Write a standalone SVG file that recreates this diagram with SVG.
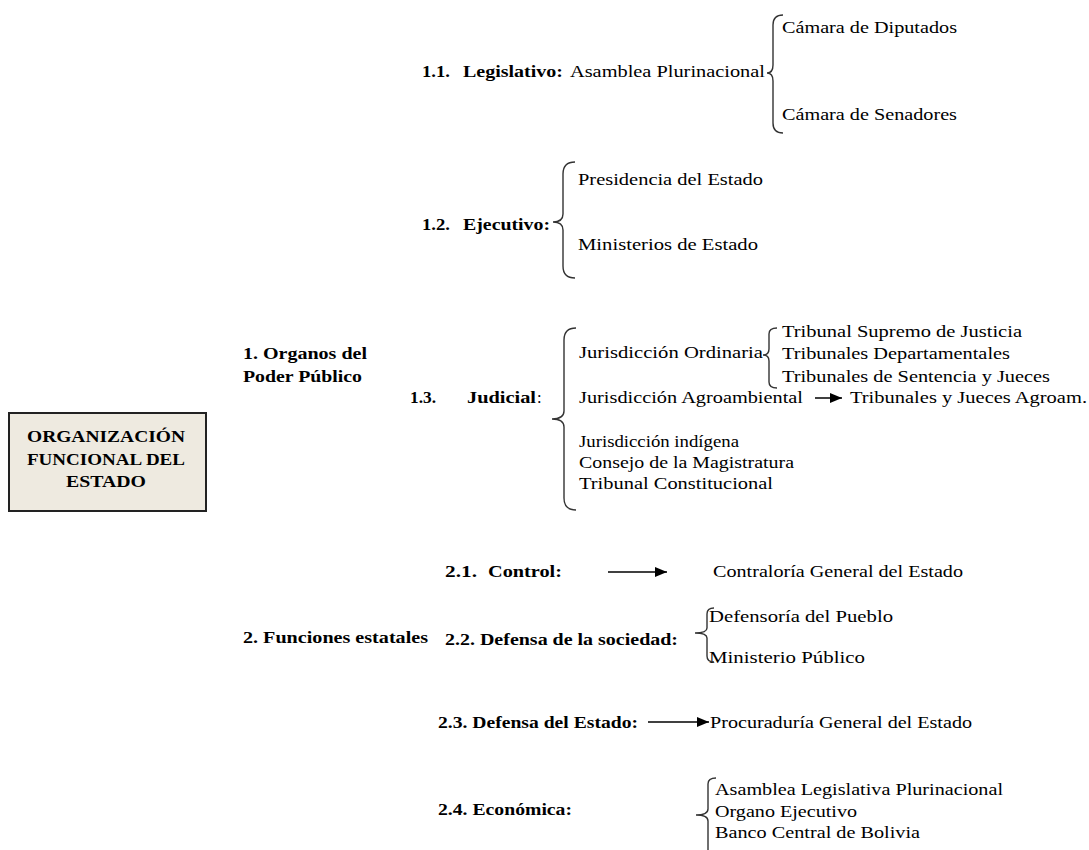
<svg xmlns="http://www.w3.org/2000/svg" width="1089" height="850" viewBox="0 0 1089 850">
<defs>
<style>
text{font-family:"Liberation Serif","Times New Roman",serif;font-size:16.5px;fill:#000}
.b{font-weight:bold}
.br{fill:none;stroke:#333;stroke-width:1.4}
.ar{stroke:#000;stroke-width:1.5;fill:none}
</style>
<marker id="ah" viewBox="0 0 10 10" refX="10" refY="5" markerWidth="12" markerHeight="10" markerUnits="userSpaceOnUse" orient="auto" preserveAspectRatio="none"><path d="M0,0 L10,5 L0,10 Z" fill="#000"/></marker>
</defs>
<rect width="1089" height="850" fill="#fff"/>

<g id="root">
<rect x="9" y="413" width="197" height="98" fill="#EEEAE0" stroke="#222" stroke-width="2"/>
<text class="b" x="106" y="442" text-anchor="middle" textLength="158" lengthAdjust="spacingAndGlyphs">ORGANIZACIÓN</text>
<text class="b" x="106" y="465" text-anchor="middle" textLength="158" lengthAdjust="spacingAndGlyphs">FUNCIONAL DEL</text>
<text class="b" x="106" y="487" text-anchor="middle" textLength="80" lengthAdjust="spacingAndGlyphs">ESTADO</text>
</g>

<g id="organos">
<text class="b" x="243" y="359" textLength="124" lengthAdjust="spacingAndGlyphs">1. Organos del</text>
<text class="b" x="243" y="382" textLength="119" lengthAdjust="spacingAndGlyphs">Poder Público</text>
</g>

<g id="legislativo">
<text class="b" x="422" y="77" textLength="28" lengthAdjust="spacingAndGlyphs">1.1.</text>
<text class="b" x="463" y="77" textLength="100" lengthAdjust="spacingAndGlyphs">Legislativo:</text>
<text x="570" y="77" textLength="195" lengthAdjust="spacingAndGlyphs">Asamblea Plurinacional</text>
<text x="782" y="33" textLength="175" lengthAdjust="spacingAndGlyphs">Cámara de Diputados</text>
<text x="782" y="120" textLength="175" lengthAdjust="spacingAndGlyphs">Cámara de Senadores</text>
</g>

<g id="ejecutivo">
<text class="b" x="422" y="230" textLength="28" lengthAdjust="spacingAndGlyphs">1.2.</text>
<text class="b" x="463" y="230" textLength="87" lengthAdjust="spacingAndGlyphs">Ejecutivo:</text>
<text x="578" y="185" textLength="185" lengthAdjust="spacingAndGlyphs">Presidencia del Estado</text>
<text x="578" y="250" textLength="180" lengthAdjust="spacingAndGlyphs">Ministerios de Estado</text>
</g>

<g id="judicial">
<text class="b" x="410" y="403" textLength="26" lengthAdjust="spacingAndGlyphs">1.3.</text>
<text class="b" x="467" y="403" textLength="69" lengthAdjust="spacingAndGlyphs">Judicial</text>
<text x="537" y="403">:</text>
<text x="579" y="358" textLength="184" lengthAdjust="spacingAndGlyphs">Jurisdicción Ordinaria</text>
<text x="782" y="337" textLength="240" lengthAdjust="spacingAndGlyphs">Tribunal Supremo de Justicia</text>
<text x="782" y="359" textLength="228" lengthAdjust="spacingAndGlyphs">Tribunales Departamentales</text>
<text x="782" y="382" textLength="268" lengthAdjust="spacingAndGlyphs">Tribunales de Sentencia y Jueces</text>
<text x="579" y="403" textLength="224" lengthAdjust="spacingAndGlyphs">Jurisdicción Agroambiental</text>
<text x="850" y="403" textLength="237" lengthAdjust="spacingAndGlyphs">Tribunales y Jueces Agroam.</text>
<text x="579" y="447" textLength="160" lengthAdjust="spacingAndGlyphs">Jurisdicción indígena</text>
<text x="579" y="468" textLength="215" lengthAdjust="spacingAndGlyphs">Consejo de la Magistratura</text>
<text x="579" y="489" textLength="194" lengthAdjust="spacingAndGlyphs">Tribunal Constitucional</text>
</g>

<g id="funciones">
<text class="b" x="243" y="643" textLength="185" lengthAdjust="spacingAndGlyphs">2. Funciones estatales</text>
</g>

<g id="control">
<text class="b" x="445" y="577" textLength="32" lengthAdjust="spacingAndGlyphs">2.1.</text>
<text class="b" x="488" y="577" textLength="74" lengthAdjust="spacingAndGlyphs">Control:</text>
<text x="713" y="577" textLength="250" lengthAdjust="spacingAndGlyphs">Contraloría General del Estado</text>
</g>

<g id="defensa-sociedad">
<text class="b" x="445" y="645" textLength="233" lengthAdjust="spacingAndGlyphs">2.2. Defensa de la sociedad:</text>
<text x="709" y="622" textLength="184" lengthAdjust="spacingAndGlyphs">Defensoría del Pueblo</text>
<text x="709" y="663" textLength="156" lengthAdjust="spacingAndGlyphs">Ministerio Público</text>
</g>

<g id="defensa-estado">
<text class="b" x="438" y="728" textLength="200" lengthAdjust="spacingAndGlyphs">2.3. Defensa del Estado:</text>
<text x="710" y="728" textLength="262" lengthAdjust="spacingAndGlyphs">Procuraduría General del Estado</text>
</g>

<g id="economica">
<text class="b" x="438" y="815" textLength="134" lengthAdjust="spacingAndGlyphs">2.4. Económica:</text>
<text x="715" y="795" textLength="288" lengthAdjust="spacingAndGlyphs">Asamblea Legislativa Plurinacional</text>
<text x="715" y="817" textLength="142" lengthAdjust="spacingAndGlyphs">Organo Ejecutivo</text>
<text x="715" y="838" textLength="205" lengthAdjust="spacingAndGlyphs">Banco Central de Bolivia</text>
</g>

<g id="connectors">
<path class="br" d="M783,15 Q773,15 773,25 L773,65 Q773,73 767,73 Q773,73 773,81 L773,123 Q773,133 783,133"/>
<path class="br" d="M575,162 Q563,162 563,174 L563,214 Q563,222 553,222 Q563,222 563,230 L563,266 Q563,278 575,278"/>
<path class="br" d="M576,328 Q564,328 564,340 L564,411 Q564,419 552,419 Q564,419 564,427 L564,498 Q564,510 576,510"/>
<path class="br" d="M777,328 Q769,328 769,334 L769,349 Q769,355 763,355 Q769,355 769,361 L769,382 Q769,388 777,388"/>
<path class="br" d="M714,608 Q707,608 707,614 L707,628 Q707,633 695,633 Q707,633 707,638 L707,656 Q707,662 714,662"/>
<path class="br" d="M716,778 Q708,778 708,784 L708,809 Q708,815 696,815 Q708,815 708,821 L708,855"/>
<line class="ar" x1="815" y1="398" x2="842" y2="398" marker-end="url(#ah)"/>
<line class="ar" x1="608" y1="572" x2="667" y2="572" marker-end="url(#ah)"/>
<line class="ar" x1="648" y1="722" x2="709" y2="722" marker-end="url(#ah)"/>
</g>
</svg>
